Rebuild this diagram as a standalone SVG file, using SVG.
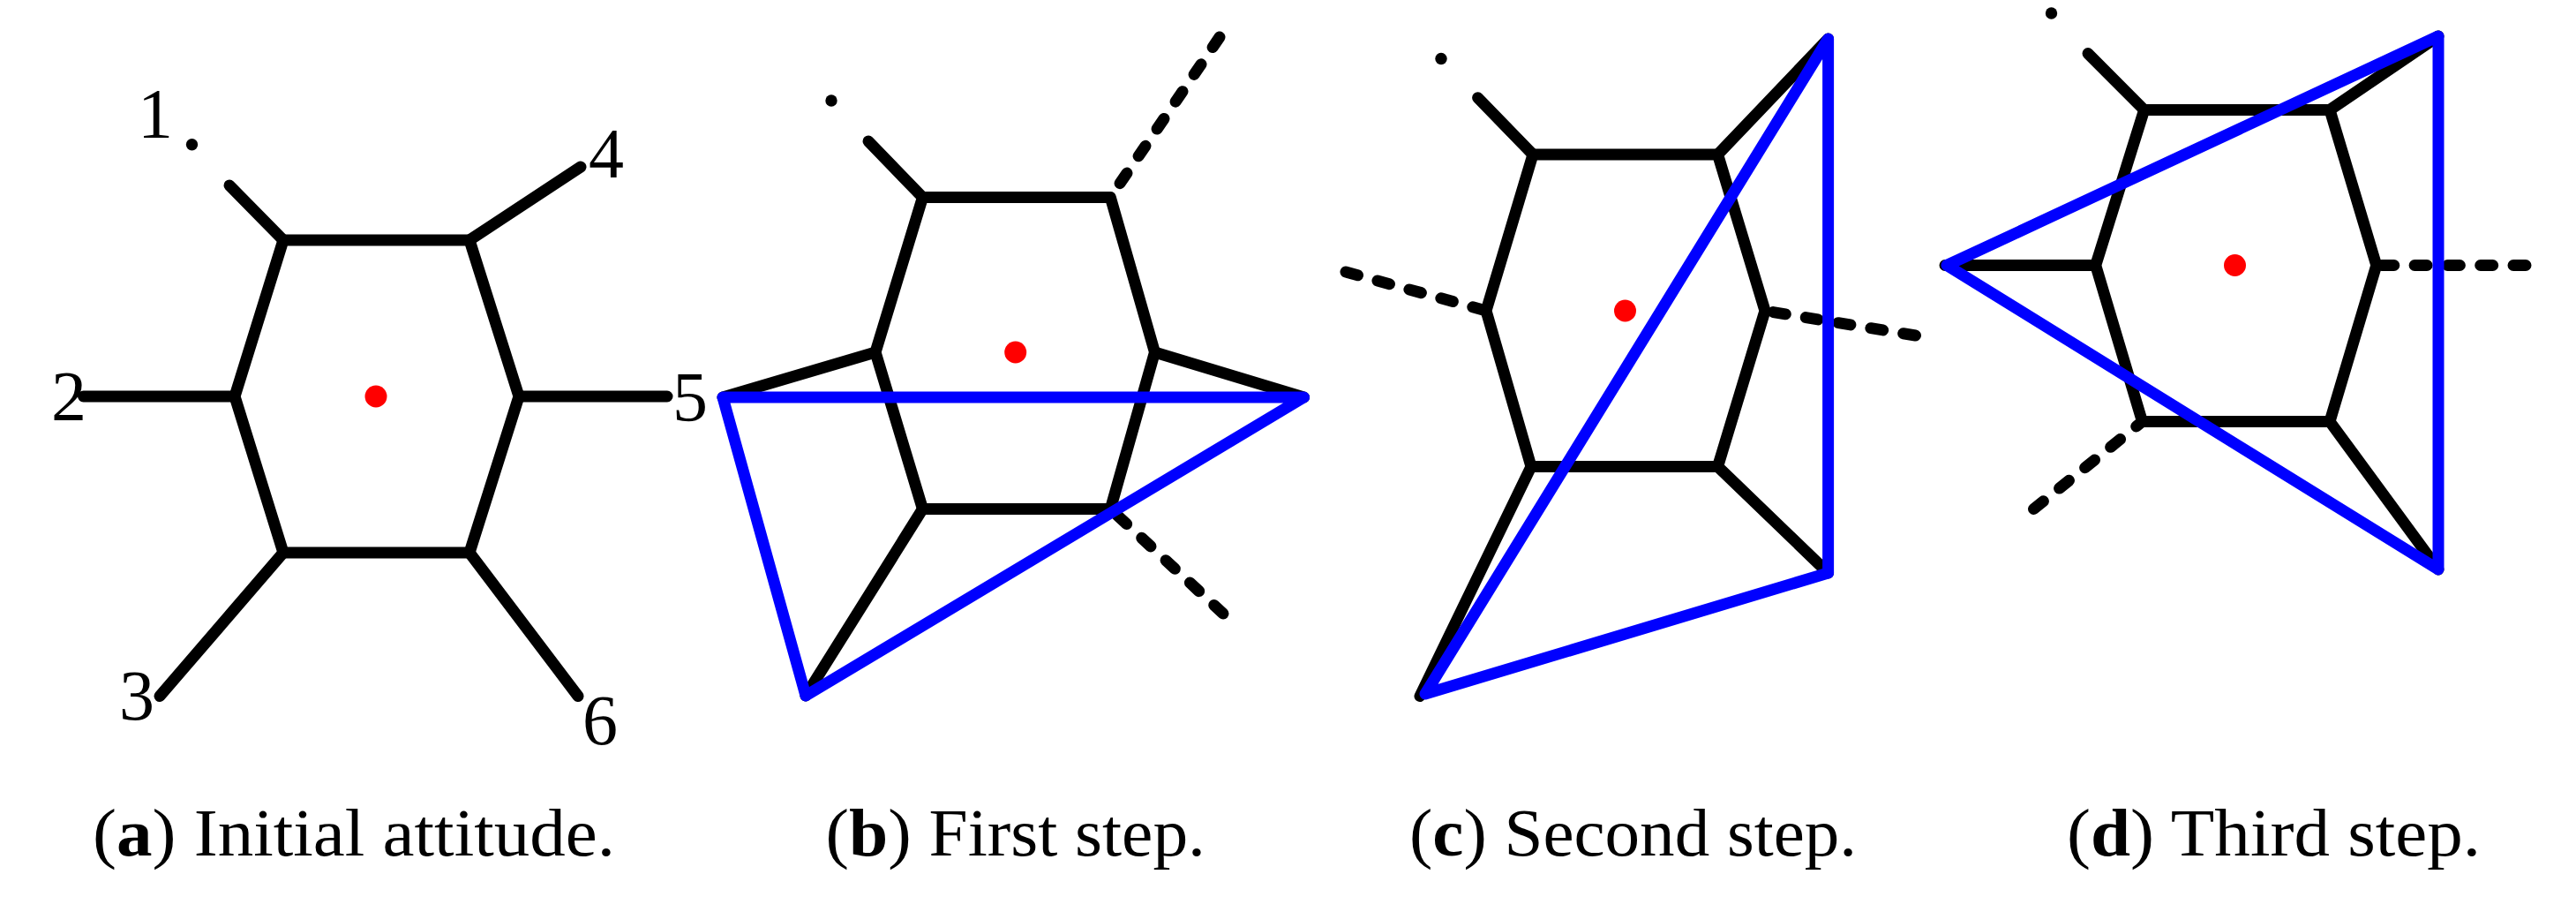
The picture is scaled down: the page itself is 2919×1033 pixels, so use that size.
<svg xmlns="http://www.w3.org/2000/svg" width="2919" height="1033" viewBox="0 0 2919 1033">
<style>
.k{fill:none;stroke:#000;stroke-width:13;stroke-linecap:round;stroke-linejoin:round}
.d{fill:none;stroke:#000;stroke-width:13;stroke-linecap:round;stroke-dasharray:14 23.3}
.b{fill:none;stroke:#0000ff;stroke-width:13;stroke-linejoin:round;stroke-linecap:round}
.r{fill:#ff0000}
.p{fill:#000}
text{font-family:"Liberation Serif","Times New Roman",serif;fill:#000}
.n{font-size:80px}
.c{font-size:76px}
.c tspan{font-weight:bold}
</style>
<rect width="2919" height="1033" fill="#fff"/>
<g id="panel-a">
<path class="k" d="M321 272H532L588 449L532 626H321L266 449Z"/>
<path class="k" d="M321 272L260 210M532 272L658 189M266 449H94.5M588 449H756M321 626L181 788.5M532 626L655 788.5"/>
<circle class="p" cx="217.5" cy="163.7" r="6.7"/>
<circle class="r" cx="426" cy="449" r="12.5"/>
<text class="n" x="156" y="156">1</text>
<text class="n" x="667" y="201">4</text>
<text class="n" x="58" y="476">2</text>
<text class="n" x="762" y="477">5</text>
<text class="n" x="135" y="815">3</text>
<text class="n" x="660" y="843">6</text>
<text class="c" x="105" y="969" textLength="592" lengthAdjust="spacingAndGlyphs">(<tspan>a</tspan>) Initial attitude.</text>
</g>
<g id="panel-b">
<path class="k" d="M1045.5 223.5H1258.3L1308.5 399L1258.3 576.5H1045.5L992 399Z"/>
<path class="k" d="M1045.5 223.5L984 160M992 399L819 450M1308.5 399L1477.5 450M1045.5 576.5L913 788"/>
<path class="d" d="M1382 42L1258.3 223.5M1386 695L1258.3 576.5"/>
<circle class="p" cx="942" cy="114" r="6.7"/>
<circle class="r" cx="1150.7" cy="399" r="12.5"/>
<path class="b" d="M819 450H1477.5L913 788Z"/>
<text class="c" x="935.5" y="969" textLength="430.5" lengthAdjust="spacingAndGlyphs">(<tspan>b</tspan>) First step.</text>
</g>
<g id="panel-c">
<path class="k" d="M1737 175H1946.5L2000 352L1946.5 528.5H1735L1684 352Z"/>
<path class="k" d="M1737 175L1674.6 110.7M1946.5 175L2071.6 44M1946.5 528.5L2071.6 649M1735 528.5L1609 788.5"/>
<path class="d" d="M1525 308L1684 352M2170.5 380L2000 352"/>
<circle class="p" cx="1633" cy="66.5" r="6.7"/>
<circle class="r" cx="1841.5" cy="352" r="12.5"/>
<path class="b" d="M2071.6 44V649L1615 786Z"/>
<text class="c" x="1597" y="969" textLength="507" lengthAdjust="spacingAndGlyphs">(<tspan>c</tspan>) Second step.</text>
</g>
<g id="panel-d">
<path class="k" d="M2429.7 124.5H2640L2692.8 300.5L2640 477.5H2427.5L2374.7 300.5Z"/>
<path class="k" d="M2429.7 124.5L2366 60.6M2374.7 300.5H2204M2640 124.5L2763 41M2640 477.5L2763 645"/>
<path class="d" d="M2862 300.5H2692.8M2304.5 576.5L2427.5 477.5"/>
<circle class="p" cx="2324.5" cy="15" r="6.7"/>
<circle class="r" cx="2532.5" cy="300.5" r="12.5"/>
<path class="b" d="M2763 41V645L2206 300.5Z"/>
<text class="c" x="2342" y="969" textLength="469" lengthAdjust="spacingAndGlyphs">(<tspan>d</tspan>) Third step.</text>
</g>
</svg>
